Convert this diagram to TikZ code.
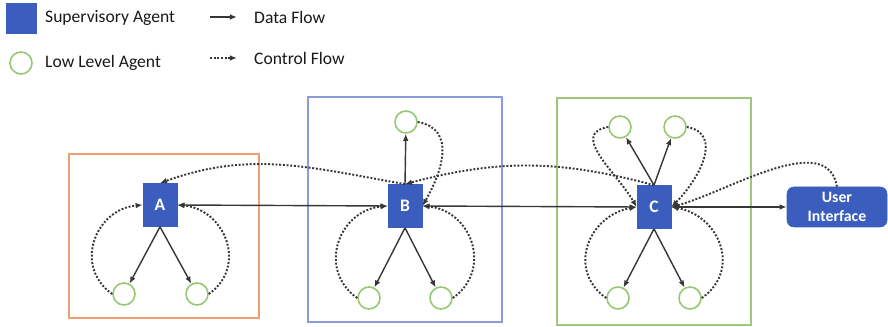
\documentclass[tikz,border=0pt]{standalone}
\usepackage{fontspec}
\setmainfont{Carlito}
\usetikzlibrary{arrows.meta}
\definecolor{agentblue}{RGB}{59,94,190}
\definecolor{lowgreen}{RGB}{150,200,115}
\definecolor{boxorange}{RGB}{240,160,115}
\definecolor{boxblue}{RGB}{140,155,220}
\definecolor{boxgreen}{RGB}{160,200,125}
\definecolor{flowgray}{RGB}{55,55,55}

\begin{document}
\begin{tikzpicture}[x=0.02cm, y=0.02cm, >={Latex[length=4pt,width=3.2pt]},
	supervisor/.style={draw=agentblue, fill=agentblue, text=white, minimum width=0.68cm, minimum height=0.86cm, inner sep=0pt, font=\bfseries},
	lowlevel/.style={draw=lowgreen, circle, line width=0.9pt, minimum size=0.44cm, inner sep=0pt},
	dataflow/.style={->, draw=flowgray, line width=0.8pt},
	ctrlflow/.style={->, draw=flowgray, densely dotted, line width=1.1pt},
	legendtext/.style={anchor=west, text=black!90}]
		\useasboundingbox (0,0) rectangle (888,327);
		% legend
		\node[supervisor, minimum width=0.6cm, minimum height=0.6cm] (legsup) at (21,309) {};
		\node[legendtext] (legsuptext) at (39,309) {Supervisory Agent};
		\node[lowlevel] (leglow) at (21,264) {};
		\node[legendtext] (leglowtext) at (39,264) {Low Level Agent};
		\coordinate (datastart) at (210,310);
		\coordinate (dataend) at (237,310);
		\draw[dataflow] (datastart) -- (dataend);
		\node[legendtext] (datatext) at (248,310) {Data Flow};
		\coordinate (ctrlstart) at (210,269);
		\coordinate (ctrlend) at (237,269);
		\draw[ctrlflow] (ctrlstart) -- (ctrlend);
		\node[legendtext] (ctrltext) at (248,269) {Control Flow};
		% groups
		\draw[boxorange, line width=0.9pt] (69,9) rectangle (259,173);
		\draw[boxblue, line width=0.9pt] (308,5) rectangle (502,230);
		\draw[boxgreen, line width=0.9pt] (557,2) rectangle (751,229);
		% agents
		\node[supervisor] (A) at (160,122) {A};
		\node[lowlevel] (A1) at (124,33) {};
		\node[lowlevel] (A2) at (197,33) {};
		\node[supervisor] (B) at (405,121) {B};
		\node[lowlevel] (B0) at (406,205) {};
		\node[lowlevel] (B1) at (369,29) {};
		\node[lowlevel] (B2) at (441,29) {};
		\node[supervisor] (C) at (654,120) {C};
		\node[lowlevel] (C1) at (620,200) {};
		\node[lowlevel] (C2) at (675,200) {};
		\node[lowlevel] (C3) at (618,29) {};
		\node[lowlevel] (C4) at (690,29) {};
		\node[supervisor, rounded corners=4pt, minimum width=2cm, minimum height=0.8cm, align=center, font=\fontsize{9}{10.5}\selectfont\bfseries] (ui) at (837,120) {User\\Interface};
		% data flow
		\draw[dataflow, <->] (A.east) -- (B.west);
		\draw[dataflow, <->] (B.east) -- (C.west);
		\draw[dataflow, <->] (C.east) -- (ui.west);
		\draw[dataflow] (A.south) -- (A1);
		\draw[dataflow] (A.south) -- (A2);
		\draw[dataflow] (B.north) -- (B0);
		\draw[dataflow] (B.south) -- (B1);
		\draw[dataflow] (B.south) -- (B2);
		\draw[dataflow] (C.north) -- (C1);
		\draw[dataflow] (C.north) -- (C2);
		\draw[dataflow] (C.south) -- (C3);
		\draw[dataflow] (C.south) -- (C4);
		% control flow
		\draw[ctrlflow] (A1.west) to [out=145,in=185,looseness=1.3] (A.west);
		\draw[ctrlflow] (A2.east) to [out=35,in=-5,looseness=1.3] (A.east);
		\draw[ctrlflow] (B0.east) to [out=-10,in=60,looseness=1.2] (B.east);
		\draw[ctrlflow] (B1.west) to [out=145,in=185,looseness=1.3] (B.west);
		\draw[ctrlflow] (B2.east) to [out=35,in=-5,looseness=1.3] (B.east);
		\draw[ctrlflow] (C1.west) to [out=190,in=120,looseness=1.2] (C.west);
		\draw[ctrlflow] (C2.east) to [out=-10,in=45,looseness=1.2] (C.east);
		\draw[ctrlflow] (C3.west) to [out=145,in=190,looseness=1.3] (C.west);
		\draw[ctrlflow] (C4.east) to [out=35,in=-10,looseness=1.3] (C.east);
		\draw[ctrlflow] (ui.north) to [out=100,in=15,looseness=0.9] (C.east);
		\draw[ctrlflow] (C.north) to [out=165,in=15] (B.north);
		\draw[ctrlflow] (B.north) to [out=170,in=20] (A.north);
\end{tikzpicture}
\end{document}
